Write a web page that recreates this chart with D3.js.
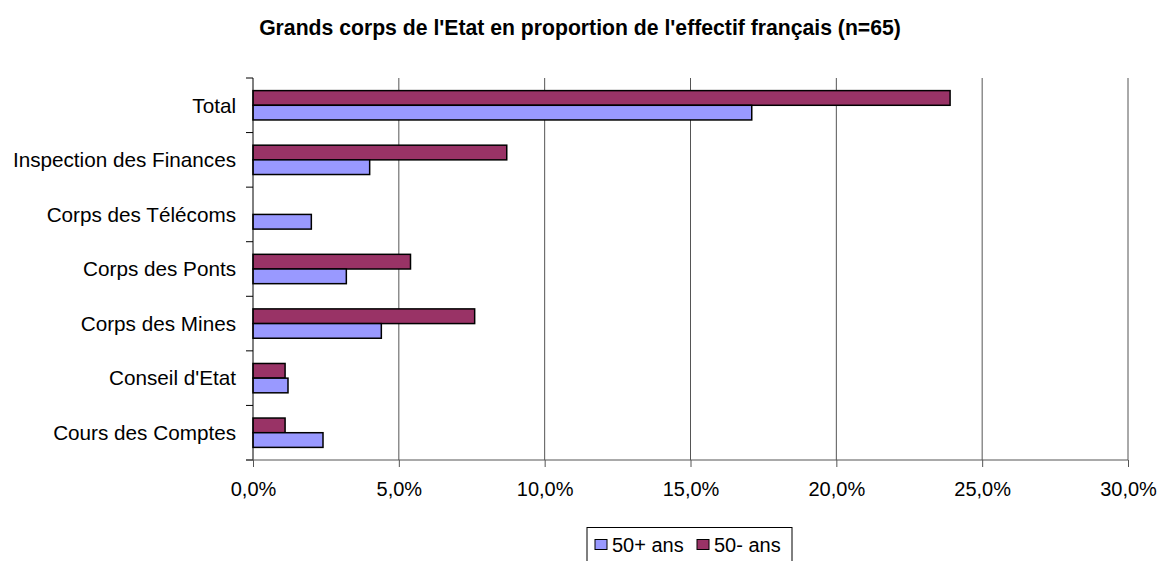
<!DOCTYPE html>
<html>
<head>
<meta charset="utf-8">
<script src="https://cdn.jsdelivr.net/npm/d3@7"></script>
<style>
  body { margin: 0; background: #fff; }
  svg text { font-family: "Liberation Sans", Arial, sans-serif; fill: #000; }
</style>
</head>
<body>
<div id="chart"></div>
<script>
"use strict";
// values (percent)
const categories = ["Total", "Inspection des Finances", "Corps des Télécoms", "Corps des Ponts",
                    "Corps des Mines", "Conseil d'Etat", "Cours des Comptes"];
const moins50 = [23.9, 8.7, 0, 5.4, 7.6, 1.1, 1.1];   // 50- ans
const plus50  = [17.1, 4.0, 2.0, 3.2, 4.4, 1.2, 2.4]; // 50+ ans
const xTicks = [0, 5, 10, 15, 20, 25, 30];
const seriesNames = ["50- ans", "50+ ans"];
const legendNames = ["50+ ans", "50- ans"];
const colors = { "50+ ans": "#9999ff", "50- ans": "#993366" };

const width = 1158, height = 561;
const plotLeft = 253, plotRight = 1128, plotTop = 78, plotBottom = 460;

let svg = d3.select("#chart").append("svg").attr("width", width).attr("height", height);

let x = d3.scaleLinear().domain([0, 30]).range([plotLeft, plotRight]);
let y = d3.scaleBand().domain(categories).range([plotTop, plotBottom]).padding(0);
let ySub = d3.scaleBand().domain(seriesNames).range([0, y.bandwidth()]).paddingInner(0).paddingOuter(0.86);

// title
svg.append("text")
  .attr("x", 580).attr("y", 35)
  .attr("text-anchor", "middle")
  .style("font-weight", "bold").style("font-size", "21.2px")
  .text("Grands corps de l'Etat en proportion de l'effectif français (n=65)");

// vertical gridlines
svg.append("g").selectAll("line")
  .data(xTicks.slice(1))
  .enter().append("line")
  .attr("x1", d => x(d)).attr("x2", d => x(d))
  .attr("y1", plotTop).attr("y2", plotBottom)
  .attr("stroke", "#555").attr("stroke-width", 1);

// bars
let rows = categories.map((c, i) => ({ cat: c, vals: [
  { s: "50- ans", v: moins50[i] },
  { s: "50+ ans", v: plus50[i] }
]}));

let groups = svg.append("g").selectAll("g")
  .data(rows).enter().append("g")
  .attr("transform", d => "translate(0," + y(d.cat) + ")");

groups.selectAll("rect")
  .data(d => d.vals.filter(e => e.v > 0))
  .enter().append("rect")
  .attr("x", x(0))
  .attr("y", d => ySub(d.s))
  .attr("width", d => x(d.v) - x(0))
  .attr("height", ySub.bandwidth())
  .attr("fill", d => colors[d.s])
  .attr("stroke", "#000").attr("stroke-width", 1.5);

// y axis
let yAxis = svg.append("g").attr("transform", "translate(" + plotLeft + ",0)");
yAxis.append("line").attr("x1", 0).attr("x2", 0).attr("y1", plotTop).attr("y2", plotBottom)
  .attr("stroke", "#000");
yAxis.selectAll(".tk").data(categories.concat(["end"]))
  .enter().append("line")
  .attr("x1", -7).attr("x2", 0)
  .attr("y1", (d, i) => i < categories.length ? y(d) : plotBottom)
  .attr("y2", (d, i) => i < categories.length ? y(d) : plotBottom)
  .attr("stroke", "#000");
yAxis.selectAll("text").data(categories)
  .enter().append("text")
  .attr("x", -17)
  .attr("y", d => y(d) + y.bandwidth() / 2)
  .attr("dy", "0.35em")
  .attr("text-anchor", "end")
  .style("font-size", "20.7px")
  .text(d => d);

// x axis
let xAxis = d3.axisBottom(x).tickValues(xTicks).tickSize(7).tickSizeOuter(0)
  .tickFormat(d => d3.format(".1f")(d).replace(".", ",") + "%");
let gx = svg.append("g").attr("transform", "translate(0," + plotBottom + ")").call(xAxis);
gx.select(".domain").attr("d", "M" + (plotLeft - 7) + ",0H" + plotRight).attr("stroke", "#555");
gx.selectAll(".tick line").attr("stroke", "#555");
gx.selectAll(".tick text").attr("y", 22).style("font-size", "20px")
  .style("font-family", "'Liberation Sans', Arial, sans-serif");

// legend
let lg = svg.append("g");
lg.append("rect").attr("x", 587).attr("y", 527.5).attr("width", 205).attr("height", 45)
  .attr("fill", "#fff").attr("stroke", "#000");
let lx = [595, 697];
legendNames.forEach((n, i) => {
  lg.append("rect").attr("x", lx[i]).attr("y", 539.5).attr("width", 12).attr("height", 10)
    .attr("fill", colors[n]).attr("stroke", "#000");
  lg.append("text").attr("x", lx[i] + 17).attr("y", 552).style("font-size", "20px").text(n);
});
</script>
</body>
</html>
